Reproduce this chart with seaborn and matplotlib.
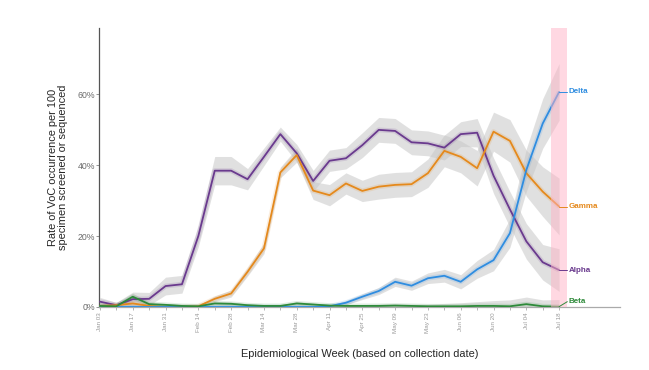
import numpy as np
import pandas as pd
import matplotlib
matplotlib.use("Agg")
import matplotlib.pyplot as plt
import seaborn as sns

# epidemiological weeks (2021)
weeks = ["Jan 03", "Jan 10", "Jan 17", "Jan 24", "Jan 31", "Feb 07", "Feb 14",
         "Feb 21", "Feb 28", "Mar 07", "Mar 14", "Mar 21", "Mar 28", "Apr 04",
         "Apr 11", "Apr 18", "Apr 25", "May 02", "May 09", "May 16", "May 23",
         "May 30", "Jun 06", "Jun 13", "Jun 20", "Jun 27", "Jul 04", "Jul 11",
         "Jul 18"]

# rate per 100 specimens (%)
alpha = [1.5, 0.5, 2.2, 2.3, 5.9, 6.4, 20.0, 38.4, 38.4, 36.0, 42.3, 48.7, 43.3,
         35.5, 41.2, 41.9, 45.6, 49.9, 49.6, 46.4, 46.1, 44.9, 48.7, 49.1, 37.0,
         27.5, 18.5, 12.6, 10.4]
gamma = [0.3, 0.5, 1.0, 0.3, 0.0, 0.0, 0.2, 2.3, 3.8, 9.9, 16.5, 37.9, 42.8,
         32.8, 31.5, 34.8, 32.7, 33.9, 34.4, 34.6, 37.7, 44.0, 42.3, 39.1, 49.4,
         46.8, 37.7, 32.5, 28.3]
delta = [0.0, 0.0, 0.0, 0.0, 0.0, 0.0, 0.0, 0.0, 0.0, 0.0, 0.0, 0.0, 0.0,
         0.0, 0.2, 1.2, 2.9, 4.5, 7.1, 6.0, 8.1, 8.8, 7.1, 10.6, 13.2, 20.8,
         38.6, 51.7, 60.6]
beta = [0.3, 0.2, 2.9, 0.8, 0.6, 0.3, 0.2, 1.0, 0.9, 0.5, 0.3, 0.3, 1.0, 0.7,
        0.4, 0.3, 0.3, 0.3, 0.4, 0.3, 0.2, 0.2, 0.2, 0.3, 0.3, 0.2, 0.8, 0.2,
        0.1]

# half width of the uncertainty band (%)
alpha_ci = [1.2, 0.8, 2.0, 1.8, 2.5, 2.5, 3.0, 4.0, 4.0, 3.0, 2.5, 2.0, 2.5,
            3.0, 3.0, 3.0, 3.5, 3.5, 3.5, 3.5, 3.5, 3.5, 3.5, 4.0, 5.0, 5.0,
            5.0, 5.0, 6.0]
gamma_ci = [0.5, 0.5, 0.8, 0.5, 0.2, 0.2, 0.3, 0.8, 1.0, 1.2, 1.5, 1.5, 2.0,
            2.5, 3.0, 3.0, 3.0, 3.5, 3.5, 3.5, 4.0, 4.5, 4.5, 5.0, 5.5, 6.0,
            6.5, 7.0, 8.0]
delta_ci = [0.0, 0.0, 0.0, 0.0, 0.0, 0.0, 0.0, 0.0, 0.0, 0.0, 0.0, 0.0, 0.0,
            0.1, 0.3, 0.6, 0.8, 1.0, 1.3, 1.3, 1.5, 1.8, 2.0, 2.5, 3.0, 4.0,
            6.0, 7.0, 8.0]
beta_ci = [0.5, 0.4, 1.0, 0.5, 0.4, 0.3, 0.3, 0.5, 0.5, 0.4, 0.3, 0.3, 0.5, 0.4,
           0.3, 0.3, 0.4, 0.5, 0.5, 0.5, 0.6, 0.8, 1.0, 1.2, 1.5, 1.8, 2.0,
           1.8, 2.0]

variants = ["Alpha", "Gamma", "Delta", "Beta"]
colors = {"Alpha": "#6a3a8e", "Gamma": "#e5891c", "Delta": "#2f8de0",
          "Beta": "#2e8a3a"}

df = pd.DataFrame({
    "week": np.tile(np.arange(len(weeks)), 4),
    "variant": np.repeat(variants, len(weeks)),
    "rate": alpha + gamma + delta + beta,
    "ci": alpha_ci + gamma_ci + delta_ci + beta_ci,
})

sns.set_style("white")
plt.rcParams["font.family"] = ["Liberation Sans", "DejaVu Sans"]

fig = plt.figure(figsize=(6.49, 3.70), dpi=100)
ax = fig.add_axes([0.1525, 0.1703, 0.8025, 0.754])

for v in variants:
    d = df[df["variant"] == v]
    ax.fill_between(d["week"], (d["rate"] - d["ci"]).clip(lower=0),
                    d["rate"] + d["ci"], color="#c8c8c8", alpha=0.55,
                    lw=0, zorder=1)
    # soft halo around the line
    ax.plot(d["week"], d["rate"], color=colors[v], lw=3.5, alpha=0.15,
            zorder=2, solid_capstyle="butt")

sns.lineplot(data=df, x="week", y="rate", hue="variant", palette=colors,
             hue_order=variants, lw=1.3, legend=False, ax=ax, zorder=3)

# current week highlight
last = len(weeks) - 1
ax.axvspan(last - 0.5, last + 0.5, color="#ffb3c6", alpha=0.5, lw=0, zorder=4)

# end labels
label_y = {"Delta": 60.6, "Gamma": 28.3, "Alpha": 10.4, "Beta": 1.5}
for v in variants:
    end = df[(df["variant"] == v) & (df["week"] == last)]["rate"].iloc[0]
    ax.plot([last, last + 0.5], [end, label_y[v]], color=colors[v], lw=0.7,
            zorder=5, clip_on=False)
    ax.text(last + 0.6, label_y[v], v, color=colors[v], fontsize=5.8,
            fontweight="bold", va="center", ha="left", zorder=5)

ax.set_xlim(-0.06, 31.7)
ax.set_ylim(0, 78.6)
ax.set_xticks(np.arange(0, len(weeks), 2))
ax.set_xticks(np.arange(0, len(weeks)), minor=True)
ax.set_xticklabels(weeks[::2], rotation=90, fontsize=4.5, color="#9a9a9a")
ax.set_yticks([0, 20, 40, 60])
ax.set_yticklabels(["0%", "20%", "40%", "60%"], fontsize=6.3, color="#6a6a6a")
ax.tick_params(axis="x", which="both", length=2, width=0.5, color="#9a9a9a",
               pad=2, bottom=True)
ax.tick_params(axis="y", length=2, width=0.5, color="#6a6a6a", pad=1, left=True)

for s in ["top", "right"]:
    ax.spines[s].set_visible(False)
ax.spines["left"].set_color("#555555")
ax.spines["left"].set_linewidth(0.9)
ax.spines["bottom"].set_color("#aaaaaa")
ax.spines["bottom"].set_linewidth(0.9)

ax.set_xlabel("Epidemiological Week (based on collection date)", fontsize=7.9,
              labelpad=11.5)
ax.set_ylabel("Rate of VoC occurrence per 100\nspecimen screened or sequenced",
              fontsize=7.9, labelpad=7, linespacing=1.0)

fig.savefig("out.png", dpi=100)
